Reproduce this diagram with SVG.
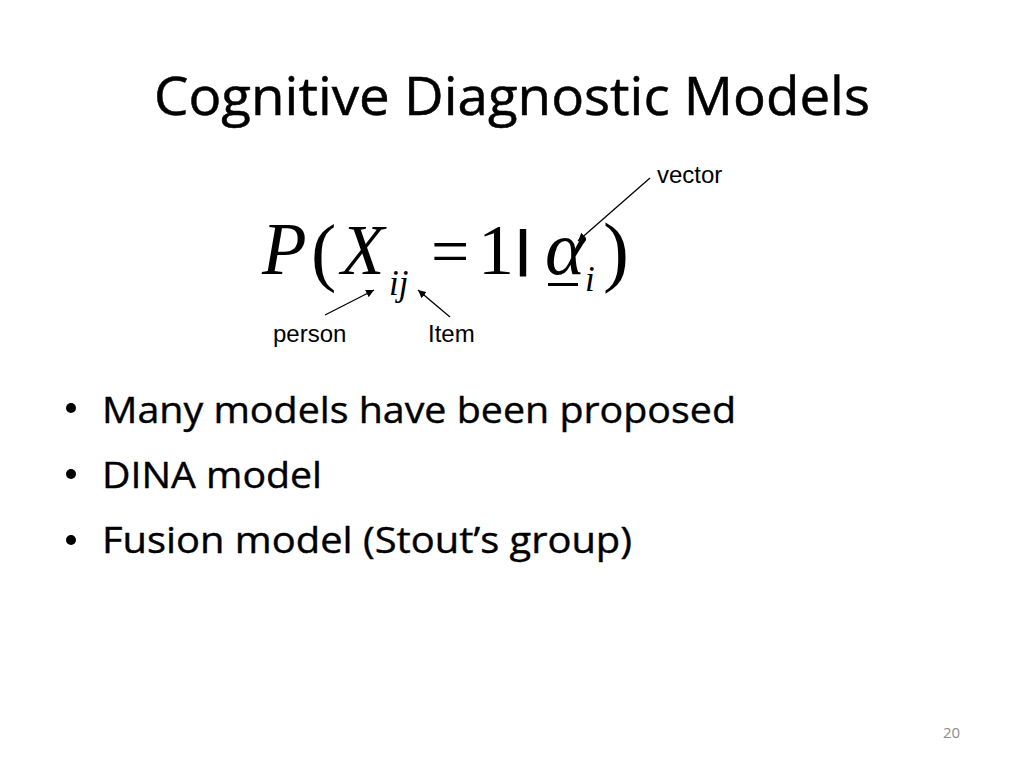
<svg xmlns="http://www.w3.org/2000/svg" width="1024" height="768" viewBox="0 0 1024 768">
<defs>
<style>
.title{font-family:"Open Sans","Noto Sans",sans-serif;font-size:53px;fill:#000;stroke:#000;stroke-width:0.5}
.bul{font-family:"Open Sans","Noto Sans",sans-serif;font-size:36px;fill:#000;stroke:#000;stroke-width:0.4}
.lbl{font-family:"Liberation Sans",Arial,sans-serif;font-size:24px;fill:#000}
.m{font-family:"Liberation Serif","Times New Roman",serif;fill:#000}
.mi{font-style:italic}
.conn{stroke:#000;stroke-width:1.3;fill:none;marker-end:url(#ah)}
</style>
<marker id="ah" viewBox="0 0 10 10" refX="10" refY="5" markerWidth="8" markerHeight="8" markerUnits="userSpaceOnUse" orient="auto">
<path d="M0,0 L10,5 L0,10 z" fill="#000"/>
</marker>
</defs>
<rect width="1024" height="768" fill="#fff"/>
<g id="title"><text class="title" x="154" y="115" textLength="716" lengthAdjust="spacingAndGlyphs">Cognitive Diagnostic Models</text></g>
<g id="formula">
<text class="m mi" x="262" y="274" font-size="73">P</text>
<text class="m" x="311" y="277" font-size="76">(</text>
<text class="m mi" x="341" y="274" font-size="71">X</text>
<text class="m mi" x="389" y="295" font-size="35">ij</text>
<text class="m" x="431" y="274" font-size="68">=</text>
<text class="m" x="478" y="274" font-size="72">1</text>
<text x="516" y="264.5" font-family="Liberation Sans,Arial,sans-serif" font-weight="bold" font-size="50">|</text>
<text class="m mi" x="545" y="274" font-size="76">α</text>
<line x1="548" y1="284.5" x2="578" y2="284.5" stroke="#000" stroke-width="3"/>
<text class="m mi" x="585" y="291" font-size="35">i</text>
<text class="m" x="603" y="277" font-size="78">)</text>
</g>
<g id="label-vector"><text class="lbl" x="657" y="183">vector</text></g>
<g id="label-person"><text class="lbl" x="273" y="342">person</text></g>
<g id="label-item"><text class="lbl" x="428" y="342">Item</text></g>
<g id="connectors">
<line class="conn" x1="650" y1="178" x2="578" y2="241"/>
<line class="conn" x1="325" y1="315" x2="374" y2="290"/>
<line class="conn" x1="450" y1="317" x2="418" y2="290"/>
</g>
<g id="bullets">
<circle cx="71" cy="408" r="5" fill="#000"/>
<text class="bul" x="102" y="423" textLength="634" lengthAdjust="spacingAndGlyphs">Many models have been proposed</text>
<circle cx="71" cy="474" r="5" fill="#000"/>
<text class="bul" x="102" y="488" textLength="220" lengthAdjust="spacingAndGlyphs">DINA model</text>
<circle cx="71" cy="540" r="5" fill="#000"/>
<text class="bul" x="102" y="553" textLength="530" lengthAdjust="spacingAndGlyphs">Fusion model (Stout’s group)</text>
</g>
<g id="page-number"><text x="943" y="738" font-family="Open Sans,Noto Sans,sans-serif" font-size="15" fill="#8b8b8b">20</text></g>
</svg>
